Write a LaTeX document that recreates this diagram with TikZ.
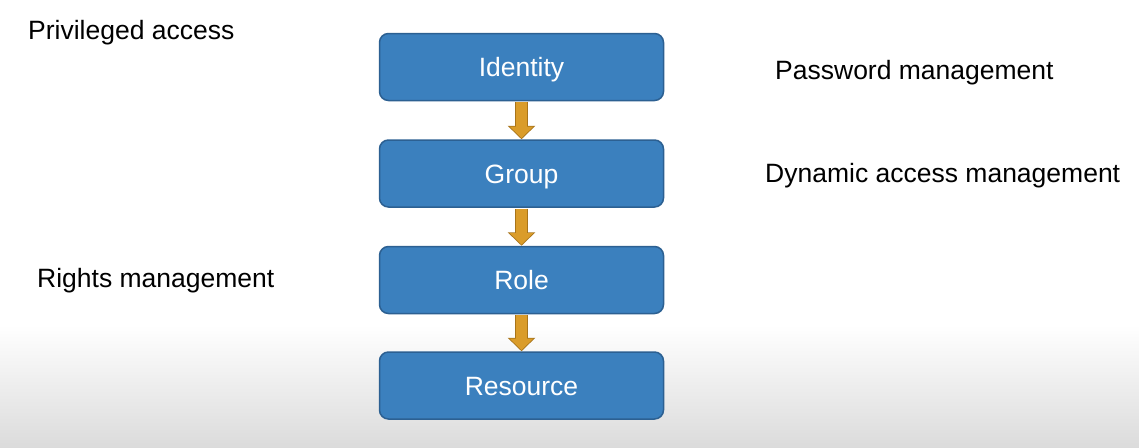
\documentclass[tikz,border=0pt]{standalone}
\usepackage{fontspec}
\setmainfont{Liberation Sans}
\usetikzlibrary{positioning,arrows.meta}
\definecolor{boxblue}{RGB}{59,128,190}
\definecolor{boxedge}{RGB}{44,96,146}
\definecolor{arrowgold}{RGB}{218,156,42}
\definecolor{arrowedge}{RGB}{168,116,26}
\newcommand{\lblfont}{\fontsize{26.5}{30}\selectfont}

\begin{document}
\begin{tikzpicture}[x=1pt,y=-1pt,
        stepbox/.style={draw=boxedge,line width=1.5pt,fill=boxblue,rounded corners=9pt,
                        minimum width=284pt,minimum height=67pt,text=white,font=\lblfont,
                        text height=19pt,text depth=0pt},
        note/.style={anchor=base west,inner sep=0pt,font=\lblfont},
        flowedge/.style={line width=13pt,draw=arrowedge,-{Triangle[width=27pt,length=13.5pt]}},
        flow/.style={line width=10.5pt,draw=arrowgold,-{Triangle[width=23pt,length=11.5pt]},shorten >=1.2pt}
    ]
    \useasboundingbox (0,0) rectangle (1139,447);
    % Background
    \fill[white] (0,0) rectangle (1139,325);
    \shade[top color=white,bottom color=black!14] (0,325) rectangle (1139,447);

    \node[stepbox] (ident) at (521.5,67) {Identity};
    \node[stepbox,below=38pt of ident] (group) {Group};
    \node[stepbox,below=38pt of group] (role) {Role};
    \node[stepbox,below=37pt of role] (res) {Resource};

    \foreach \a/\b in {ident/group,group/role,role/res}{
        \draw[flowedge] ([yshift=-0.75pt]\a.south) -- (\b.north);
        \draw[flow] ([yshift=-0.75pt]\a.south) -- (\b.north);
    }

    \node[note] (priv) at (28,39) {Privileged access};
    \node[note] (rights) at (37,287) {Rights management};
    \node[note] (pwd) at (775,79) {Password management};
    \node[note] (dyn) at (765,182) {Dynamic access management};
\end{tikzpicture}
\end{document}
